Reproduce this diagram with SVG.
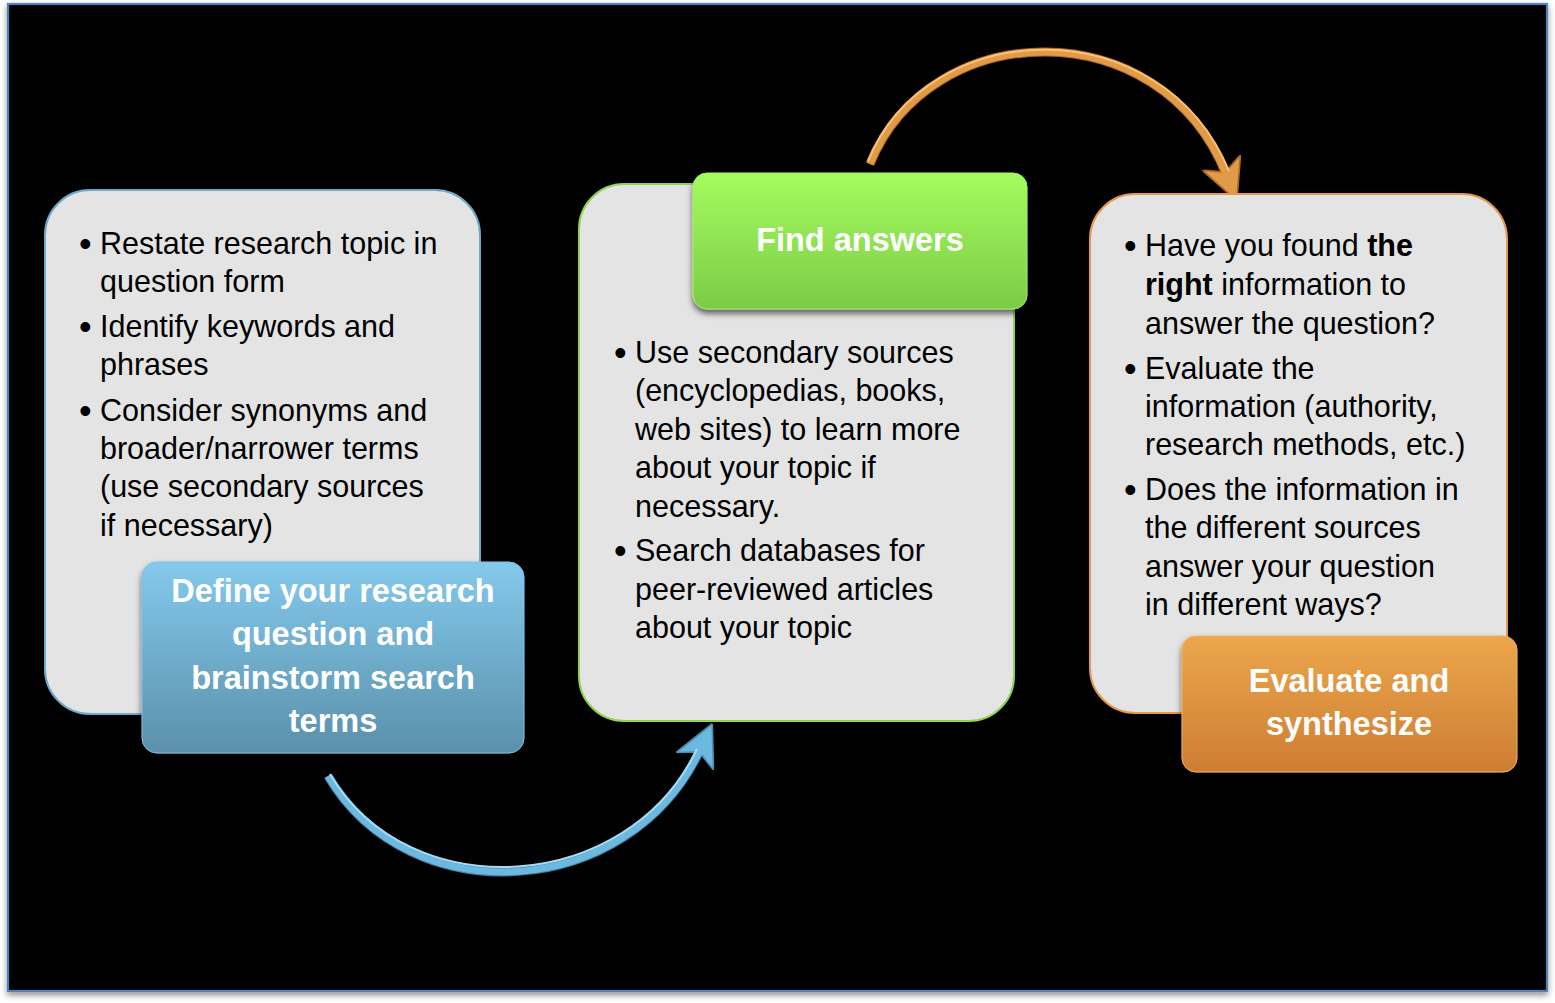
<svg xmlns="http://www.w3.org/2000/svg" width="1555" height="1003" viewBox="0 0 1555 1003">
<style>
  .body { font-family: "Liberation Sans", Arial, sans-serif; font-size: 30.5px; fill: #000; }
  .bul { font-family: "Liberation Sans", Arial, sans-serif; font-size: 36px; fill: #000; }
  .lbl { font-family: "Liberation Sans", Arial, sans-serif; font-size: 32.5px; font-weight: bold; fill: #fff; text-anchor: middle; }
  .b { font-weight: bold; }
  .panel { fill: #e4e4e4; stroke-width: 2; }
</style>
<defs>
  <filter id="frameShadow" x="-5%" y="-5%" width="110%" height="110%">
    <feDropShadow dx="0" dy="3" stdDeviation="3" flood-color="#000" flood-opacity="0.45"/>
  </filter>
  <filter id="boxShadow" x="-10%" y="-10%" width="120%" height="130%">
    <feDropShadow dx="0" dy="4" stdDeviation="3" flood-color="#000" flood-opacity="0.6"/>
  </filter>
  <linearGradient id="gBlue" x1="0" y1="0" x2="0" y2="1">
    <stop offset="0" stop-color="#84c9ec"/>
    <stop offset="1" stop-color="#5a90ab"/>
  </linearGradient>
  <linearGradient id="gGreen" x1="0" y1="0" x2="0" y2="1">
    <stop offset="0" stop-color="#a4fc5e"/>
    <stop offset="1" stop-color="#7ccb48"/>
  </linearGradient>
  <linearGradient id="gOrange" x1="0" y1="0" x2="0" y2="1">
    <stop offset="0" stop-color="#eca64c"/>
    <stop offset="1" stop-color="#cd7e33"/>
  </linearGradient>
  <marker id="headBlue" viewBox="0 0 10 10" refX="3" refY="5" markerWidth="4.6" markerHeight="4.6" orient="auto" markerUnits="strokeWidth">
    <path d="M0,0 L10,5 L0,10 L2.5,5 Z" fill="#6cb8de" stroke="#4b8db0" stroke-width="0.4"/>
  </marker>
  <marker id="headOrange" viewBox="0 0 10 10" refX="3" refY="5" markerWidth="4.6" markerHeight="4.6" orient="auto" markerUnits="strokeWidth">
    <path d="M0,0 L10,5 L0,10 L2.5,5 Z" fill="#e19a45" stroke="#a9652a" stroke-width="0.4"/>
  </marker>
</defs>

<rect x="0" y="0" width="1555" height="1003" fill="#fff"/>
<rect id="frame" x="8" y="4" width="1539" height="987" fill="#000" stroke="#4f81bd" stroke-width="2.2" filter="url(#frameShadow)"/>

<g id="connectors">
  <g id="arrow-blue">
    <path d="M328,776 C410,915 630,900 700,750" fill="none" stroke="#3f7fa2" stroke-width="9" marker-end="url(#headBlue)"/>
    <path d="M328,776 C410,915 630,900 700,750" fill="none" stroke="#6cb8de" stroke-width="7"/>
    <path d="M330,774 C410,909 628,894 697,749" fill="none" stroke="#a6dcf4" stroke-width="2"/>
  </g>
  <g id="arrow-orange">
    <path d="M870,164 C930,16 1160,10 1226,174" fill="none" stroke="#a9652a" stroke-width="9" marker-end="url(#headOrange)"/>
    <path d="M870,164 C930,16 1160,10 1226,174" fill="none" stroke="#e19a45" stroke-width="7"/>
    <path d="M868,161 C928,14 1162,8 1229,171" fill="none" stroke="#f6c27a" stroke-width="2"/>
  </g>
</g>

<g id="panel-define">
  <rect class="panel" x="45" y="190" width="435" height="524" rx="45" ry="45" stroke="#6ea9cb"/>
  <text class="bul" x="79" y="256">•</text>
  <text class="body" x="100" y="254">Restate research topic in</text>
  <text class="body" x="100" y="292">question form</text>
  <text class="bul" x="79" y="339">•</text>
  <text class="body" x="100" y="337">Identify keywords and</text>
  <text class="body" x="100" y="375">phrases</text>
  <text class="bul" x="79" y="423">•</text>
  <text class="body" x="100" y="421">Consider synonyms and</text>
  <text class="body" x="100" y="459">broader/narrower terms</text>
  <text class="body" x="100" y="497">(use secondary sources</text>
  <text class="body" x="100" y="536">if necessary)</text>
</g>

<g id="label-define">
  <rect x="142" y="562" width="382" height="191" rx="15" ry="15" fill="url(#gBlue)" stroke="#7fc0e0" stroke-width="1" filter="url(#boxShadow)"/>
  <text class="lbl" x="333" y="602">Define your research</text>
  <text class="lbl" x="333" y="645">question and</text>
  <text class="lbl" x="333" y="689">brainstorm search</text>
  <text class="lbl" x="333" y="732">terms</text>
</g>

<g id="panel-find">
  <rect class="panel" x="579" y="184" width="435" height="537" rx="45" ry="45" stroke="#8dd552"/>
  <text class="bul" x="614" y="365">•</text>
  <text class="body" x="635" y="363">Use secondary sources</text>
  <text class="body" x="635" y="401">(encyclopedias, books,</text>
  <text class="body" x="635" y="440">web sites) to learn more</text>
  <text class="body" x="635" y="478">about your topic if</text>
  <text class="body" x="635" y="517">necessary.</text>
  <text class="bul" x="614" y="563">•</text>
  <text class="body" x="635" y="561">Search databases for</text>
  <text class="body" x="635" y="600">peer-reviewed articles</text>
  <text class="body" x="635" y="638">about your topic</text>
</g>

<g id="label-find">
  <rect x="693" y="173" width="334" height="136" rx="14" ry="14" fill="url(#gGreen)" stroke="#9ef060" stroke-width="1" filter="url(#boxShadow)"/>
  <text class="lbl" x="860" y="251">Find answers</text>
</g>

<g id="panel-evaluate">
  <rect class="panel" x="1090" y="194" width="417" height="519" rx="45" ry="45" stroke="#e49a4c"/>
  <text class="bul" x="1124" y="258">•</text>
  <text class="body" x="1145" y="256">Have you found <tspan class="b">the</tspan></text>
  <text class="body" x="1145" y="295"><tspan class="b">right</tspan> information to</text>
  <text class="body" x="1145" y="334">answer the question?</text>
  <text class="bul" x="1124" y="381">•</text>
  <text class="body" x="1145" y="379">Evaluate the</text>
  <text class="body" x="1145" y="417">information (authority,</text>
  <text class="body" x="1145" y="455">research methods, etc.)</text>
  <text class="bul" x="1124" y="502">•</text>
  <text class="body" x="1145" y="500">Does the information in</text>
  <text class="body" x="1145" y="538">the different sources</text>
  <text class="body" x="1145" y="577">answer your question</text>
  <text class="body" x="1145" y="615">in different ways?</text>
</g>

<g id="label-evaluate">
  <rect x="1182" y="636" width="335" height="136" rx="14" ry="14" fill="url(#gOrange)" stroke="#f0b060" stroke-width="1" filter="url(#boxShadow)"/>
  <text class="lbl" x="1349" y="692">Evaluate and</text>
  <text class="lbl" x="1349" y="735">synthesize</text>
</g>
</svg>
